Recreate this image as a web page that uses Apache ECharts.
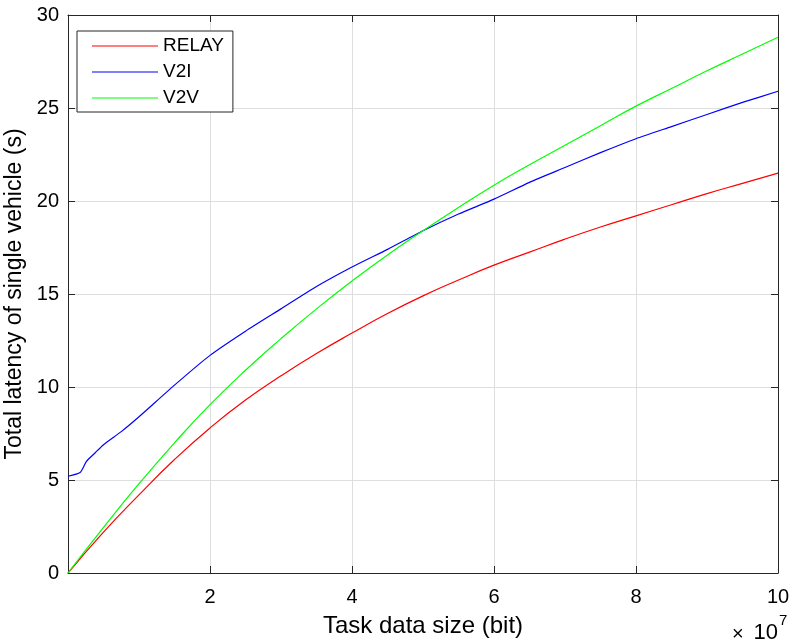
<!DOCTYPE html>
<html>
<head>
<meta charset="utf-8">
<script src="https://cdn.jsdelivr.net/npm/echarts@6/dist/echarts.min.js"></script>
<style>
  html, body { margin: 0; padding: 0; background: #fff; }
  #main { width: 795px; height: 643px; }
</style>
</head>
<body>
<div id="main"></div>
<script>
// task data size, unit 1e7 bit
const xValues = [0, 0.5, 1, 1.5, 2, 2.5, 3, 3.5, 4, 4.5, 5, 5.5, 6, 6.5, 7, 7.5, 8, 8.5, 9, 9.5, 10];
const relay = [0, 2.2, 4.2, 6.1, 7.8, 9.3, 10.6, 11.8, 12.9, 13.95, 14.9, 15.75, 16.55, 17.25, 17.95, 18.6, 19.2, 19.8, 20.4, 20.95, 21.5];
const v2v = [0, 2.45, 4.8, 7.0, 9.05, 10.9, 12.6, 14.2, 15.7, 17.1, 18.4, 19.65, 20.85, 21.95, 23.0, 24.05, 25.1, 26.05, 27.0, 27.9, 28.8];
// V2I is a bit noisy at the start
const v2iX = [0, 0.17, 0.26, 0.38, 0.5, 0.75, 1, 1.5, 2, 2.5, 3, 3.5, 4, 4.5, 5, 5.5, 6, 6.5, 7, 7.5, 8, 8.5, 9, 9.5, 10];
const v2i = [5.2, 5.4, 6.0, 6.45, 6.9, 7.6, 8.4, 10.1, 11.7, 13.0, 14.2, 15.4, 16.45, 17.4, 18.4, 19.3, 20.1, 21.0, 21.8, 22.6, 23.35, 24.0, 24.65, 25.3, 25.9];
const seriesNames = ['RELAY', 'V2I', 'V2V'];
const colors = ['#ff0000', '#0000ff', '#00ff00'];

const zip = (xs, ys) => xs.map((x, i) => [x, ys[i]]);

const font = 'Liberation Sans, Arial, Helvetica, sans-serif';
const axisColor = '#262626';

const myChart = echarts.init(document.getElementById('main'));

// top / right box lines with inner ticks (matlab "box on")
const boxAxis = {
  type: 'value',
  min: 0,
  axisLine: { show: true, onZero: false, lineStyle: { color: axisColor, width: 1 } },
  axisTick: { show: true, inside: true, length: 7, lineStyle: { color: axisColor } },
  axisLabel: { show: false },
  splitLine: { show: false }
};

const option = {
  animation: false,
  backgroundColor: '#fff',
  textStyle: { fontFamily: font },
  grid: { left: 68, right: 17, top: 15, bottom: 70, containLabel: false, outerBoundsMode: 'none' },
  legend: {
    orient: 'vertical',
    left: 77,
    top: 31,
    data: seriesNames,
    icon: 'rect',
    itemWidth: 66,
    itemHeight: 1.2,
    itemGap: 6,
    padding: [5, 9, 4, 15],
    borderColor: axisColor,
    borderWidth: 1,
    backgroundColor: '#fff',
    textStyle: { fontSize: 19, color: '#000', fontFamily: font, lineHeight: 20 }
  },
  xAxis: [
    {
      type: 'value',
      min: 0,
      max: 10,
      interval: 2,
      name: 'Task data size (bit)',
      nameLocation: 'middle',
      nameGap: 41,
      nameTextStyle: { fontSize: 24, color: '#000', fontFamily: font },
      axisLine: { show: true, onZero: false, lineStyle: { color: axisColor, width: 1 } },
      axisTick: { show: true, inside: true, length: 7, lineStyle: { color: axisColor } },
      axisLabel: { fontSize: 20, color: '#000', margin: 14, showMinLabel: false, fontFamily: font },
      splitLine: { show: true, lineStyle: { color: '#dedede', width: 1 } }
    },
    Object.assign({}, boxAxis, { position: 'top', max: 10, interval: 2 })
  ],
  yAxis: [
    {
      type: 'value',
      min: 0,
      max: 30,
      interval: 5,
      name: 'Total latency of single vehicle (s)',
      nameLocation: 'middle',
      nameGap: 31,
      nameTextStyle: { fontSize: 23, color: '#000', fontFamily: font },
      axisLine: { show: true, onZero: false, lineStyle: { color: axisColor, width: 1 } },
      axisTick: { show: true, inside: true, length: 7, lineStyle: { color: axisColor } },
      axisLabel: { fontSize: 20, color: '#000', margin: 9, fontFamily: font },
      splitLine: { show: true, lineStyle: { color: '#dedede', width: 1 } }
    },
    Object.assign({}, boxAxis, { position: 'right', max: 30, interval: 5 })
  ],
  graphic: [
    {
      type: 'text',
      x: 732,
      y: 634,
      style: { text: '×', align: 'left', verticalAlign: 'middle', font: '20px ' + font, fill: '#000' }
    },
    {
      type: 'text',
      x: 778,
      y: 633,
      style: { text: '10', align: 'right', verticalAlign: 'middle', font: '22px ' + font, fill: '#000' }
    },
    {
      type: 'text',
      x: 779,
      y: 621,
      style: { text: '7', align: 'left', verticalAlign: 'middle', font: '15px ' + font, fill: '#000' }
    }
  ],
  series: [
    {
      name: seriesNames[0],
      type: 'line',
      data: zip(xValues, relay),
      smooth: true,
      showSymbol: false,
      lineStyle: { color: colors[0], width: 1.2 },
      itemStyle: { color: colors[0] }
    },
    {
      name: seriesNames[1],
      type: 'line',
      data: zip(v2iX, v2i),
      smooth: 0.2,
      showSymbol: false,
      lineStyle: { color: colors[1], width: 1.2 },
      itemStyle: { color: colors[1] }
    },
    {
      name: seriesNames[2],
      type: 'line',
      data: zip(xValues, v2v),
      smooth: true,
      showSymbol: false,
      lineStyle: { color: colors[2], width: 1.2 },
      itemStyle: { color: colors[2] }
    }
  ]
};

myChart.setOption(option);
</script>
</body>
</html>
